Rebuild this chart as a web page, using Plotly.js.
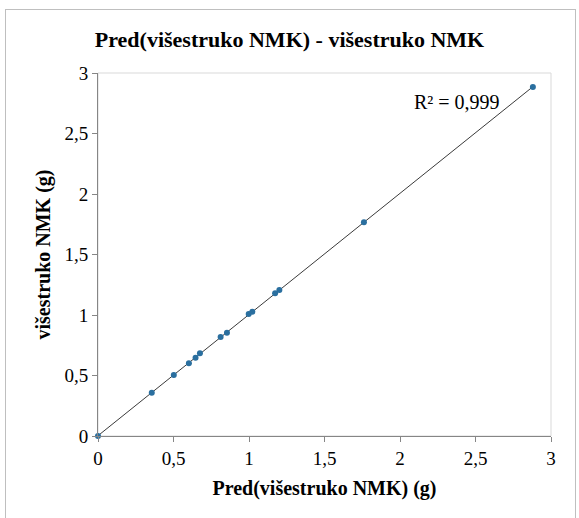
<!DOCTYPE html>
<html>
<head>
<meta charset="utf-8">
<script src="https://cdn.plot.ly/plotly-3.0.1.min.js"></script>
<style>
  html, body { margin: 0; padding: 0; background: #fff; }
  #frame { position: absolute; left: 5px; top: 9px; width: 571px; height: 520px;
           border: 1px solid #bfbfbf; border-bottom: none; box-sizing: border-box; pointer-events: none; z-index: 5; }
  #chart { position: absolute; left: 0; top: 0; width: 579px; height: 518px; }
</style>
</head>
<body>
<div id="chart"></div>
<div id="frame"></div>
<script>
// Data
const predValues = [0, 0.356, 0.502, 0.602, 0.646, 0.675, 0.812, 0.854, 0.998, 1.022, 1.173, 1.201, 1.761, 2.880];
const actualValues = [0, 0.358, 0.504, 0.601, 0.647, 0.683, 0.818, 0.854, 1.008, 1.027, 1.179, 1.207, 1.766, 2.884];
const chartTitle = "Pred(višestruko NMK) - višestruko NMK";
const xTitle = "Pred(višestruko NMK) (g)";
const yTitle = "višestruko NMK (g)";
const r2Label = "R² = 0,999";

// Linear trendline (least squares) computed from the data
const n = predValues.length;
const mx = predValues.reduce((a, b) => a + b, 0) / n;
const my = actualValues.reduce((a, b) => a + b, 0) / n;
let sxy = 0, sxx = 0;
for (let i = 0; i < n; i++) { sxy += (predValues[i] - mx) * (actualValues[i] - my); sxx += (predValues[i] - mx) ** 2; }
const slope = sxy / sxx, intercept = my - slope * mx;
const xMin = Math.min(...predValues), xMax = Math.max(...predValues);
const trendX = [xMin, xMax];
const trendY = trendX.map(x => intercept + slope * x);

const serif = "Liberation Serif";

const data = [
  { x: trendX, y: trendY, mode: 'lines', type: 'scatter',
    line: { color: '#3a3a3a', width: 1 }, hoverinfo: 'skip', cliponaxis: false },
  { x: predValues, y: actualValues, mode: 'markers', type: 'scatter',
    marker: { color: '#2a6f9f', size: 6 }, cliponaxis: false }
];

const layout = {
  width: 579, height: 518,
  margin: { l: 98, r: 28, t: 73, b: 82 },
  paper_bgcolor: '#fff', plot_bgcolor: '#fff',
  showlegend: false,
  separators: ', ',
  font: { family: serif, size: 19, color: '#000' },
  title: { text: '<b>' + chartTitle + '</b>', font: { family: serif, size: 22, color: '#000' },
           x: 0.5, xref: 'container', y: 1, yref: 'container', yanchor: 'top', pad: { t: 32 } },
  xaxis: {
    range: [0, 3], dtick: 0.5, tick0: 0, showgrid: false, zeroline: false,
    showline: true, linecolor: '#868686', linewidth: 1,
    ticks: 'outside', ticklen: 5, tickcolor: '#868686',
    tickfont: { family: serif, size: 19, color: '#000' },
    title: { text: '<b>' + xTitle + '</b>', font: { family: serif, size: 20, color: '#000' }, standoff: 13 }
  },
  yaxis: {
    range: [0, 3], dtick: 0.5, tick0: 0, showgrid: false, zeroline: false,
    showline: true, linecolor: '#868686', linewidth: 1,
    ticks: 'outside', ticklen: 5, tickcolor: '#868686',
    tickfont: { family: serif, size: 19, color: '#000' },
    title: { text: '<b>' + yTitle + '</b>', font: { family: serif, size: 20, color: '#000' }, standoff: 8 }
  },
  shapes: [
    { type: 'rect', xref: 'paper', yref: 'paper', x0: 0, x1: 1, y0: 0, y1: 1,
      line: { color: '#d9d9d9', width: 1 }, layer: 'below' }
  ],
  annotations: [
    { text: r2Label, xref: 'paper', yref: 'paper', x: 0.892, y: 0.92, xanchor: 'right', yanchor: 'middle',
      showarrow: false, font: { family: serif, size: 20, color: '#000' } }
  ]
};

Plotly.newPlot('chart', data, layout, { displayModeBar: false, staticPlot: true });
</script>
</body>
</html>
